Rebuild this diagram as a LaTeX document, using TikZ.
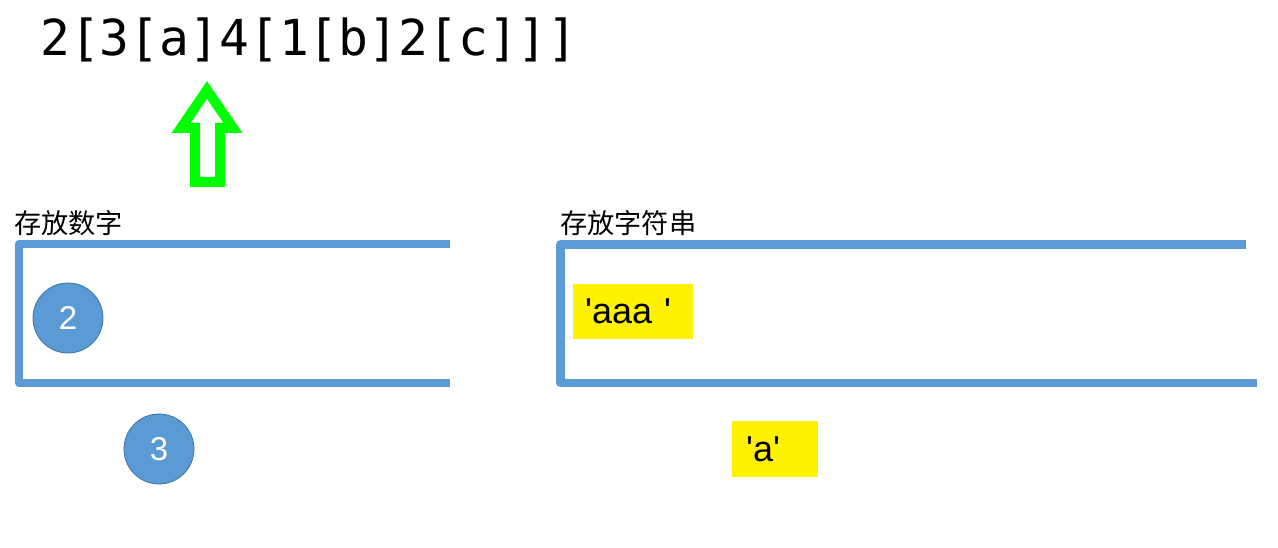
\documentclass[tikz,border=0pt]{standalone}
\usepackage{fontspec}
\setmainfont{Liberation Sans}
\newfontfamily\monof{DejaVu Sans Mono}
\newfontfamily\cjkf{Noto Sans CJK SC}
\definecolor{boxblue}{HTML}{5B9BD5}
\definecolor{ringblue}{HTML}{41719C}
\definecolor{arrowgreen}{HTML}{00FF00}
\begin{document}
\begin{tikzpicture}[x=1pt,y=-1pt,
  stackline/.style={draw=boxblue,line width=8.5pt,line join=round},
  numball/.style={circle,fill=boxblue,draw=ringblue,line width=0.8pt,minimum size=70pt,inner sep=0pt,text=white,font=\fontsize{33}{33}\selectfont},
  strbox/.style={fill=yellow,minimum height=55pt,inner ysep=0pt,align=left,font=\fontsize{36}{36}\selectfont,anchor=north west},
  caption/.style={font=\cjkf\fontsize{27.2}{28}\selectfont,inner sep=0pt,anchor=west},
  hollowarrow/.style={draw=arrowgreen,line width=10pt,line join=miter,miter limit=10}
]
\useasboundingbox (0,0) rectangle (1278,548);
% expression
\node[font=\monof\fontsize{49.6}{50}\selectfont,inner sep=0pt,anchor=base west] (expr) at (40,56) {2[3[a]4[1[b]2[c]]]};
% green hollow arrow
\draw[hollowarrow] (207,90) -- (233,128) -- (220,128) -- (220,182) -- (195,182) -- (195,128) -- (181,128) -- cycle;
% captions
\node[caption] (numcap) at (14,223.5) {存放数字};
\node[caption] (strcap) at (560,223.5) {存放字符串};
% number stack
\coordinate (nA) at (450,244);
\coordinate (nB) at (19,244);
\coordinate (nC) at (19,383);
\coordinate (nD) at (450,383);
\draw[stackline] (nA) -- (nB) -- (nC) -- (nD);
% string stack
\coordinate (sA) at (1246,244.5);
\coordinate (sB) at (560.5,244.5);
\coordinate (sC) at (560.5,383);
\coordinate (sD) at (1257,383);
\draw[stackline] (sA) -- (sB) -- (sC) -- (sD);
% numbers
\node[numball] (two) at (68,318) {2};
\node[numball] (three) at (159,449) {3};
% strings
\node[strbox,text width=96pt,inner xsep=12pt] (aaa) at (573,284) {\textquotesingle aaa \textquotesingle};
\node[strbox,text width=58pt,inner xsep=14pt,minimum height=56pt] (a) at (732,421) {\textquotesingle a\textquotesingle};
\end{tikzpicture}
\end{document}
